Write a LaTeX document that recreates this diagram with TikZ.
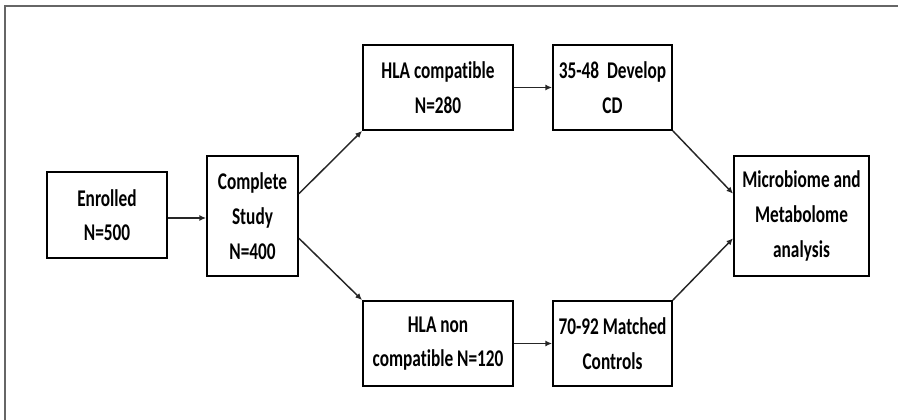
\documentclass[tikz,border=0pt]{standalone}
\usepackage{fontspec}
\setmainfont{Carlito}[FakeStretch=0.72, Ligatures=NoCommon]
\usetikzlibrary{calc,arrows.meta}

\tikzset{
  box/.style={draw=black, line width=1.4pt, fill=white, align=center, inner sep=0pt,
    font=\fontsize{18pt}{26pt}\selectfont\bfseries},
  flow/.style={draw=black!85, line width=1.1pt, -{Latex[length=5pt,width=4.5pt]}},
  frame/.style={draw=black!60, line width=1.2pt}
}

\begin{document}
\begin{tikzpicture}[x=0.75pt, y=-0.75pt]
  \useasboundingbox (0,0) rectangle (898,420);

  % outer frame (top and left edges)
  \draw[frame] (5,420) -- (5,6) -- (898,6);

  % boxes
  \node[box, minimum width=90pt, minimum height=64.5pt] (enr) at (107,215) {Enrolled\\N=500};
  \node[box, minimum width=68.25pt, minimum height=90pt] (cs) at (252.5,216) {Complete\\Study\\N=400};
  \node[box, minimum width=112.5pt, minimum height=63.75pt] (hc) at (438,87.5) {HLA compatible\\N=280};
  \node[box, minimum width=112.5pt, minimum height=63.75pt] (hn) at (438,343.5) {HLA non\\compatible N=120};
  \node[box, minimum width=89.25pt, minimum height=63.75pt] (dev) at (612.5,87.5) {35-48~~Develop\\CD};
  \node[box, minimum width=89.25pt, minimum height=63.75pt] (mc) at (612.5,343.5) {70-92 Matched\\Controls};
  \node[box, minimum width=101.25pt, minimum height=90pt] (mm) at (801.5,216) {Microbiome and\\Metabolome\\analysis};

  % connectors
  \draw[flow] ($(enr.east)+(0,3)$) -- ($(cs.west |- enr.east)+(0,3)$);
  \draw[flow] ($(cs.north east)!0.317!(cs.south east)$) -- (hc.south west);
  \draw[flow] ($(cs.north east)!0.683!(cs.south east)$) -- (hn.north west);
  \draw[flow] (hc.east) -- (dev.west);
  \draw[flow] (hn.east) -- (mc.west);
  \draw[flow] (dev.south east) -- ($(mm.north west)!0.317!(mm.south west)$);
  \draw[flow] (mc.north east) -- ($(mm.north west)!0.683!(mm.south west)$);
\end{tikzpicture}
\end{document}
